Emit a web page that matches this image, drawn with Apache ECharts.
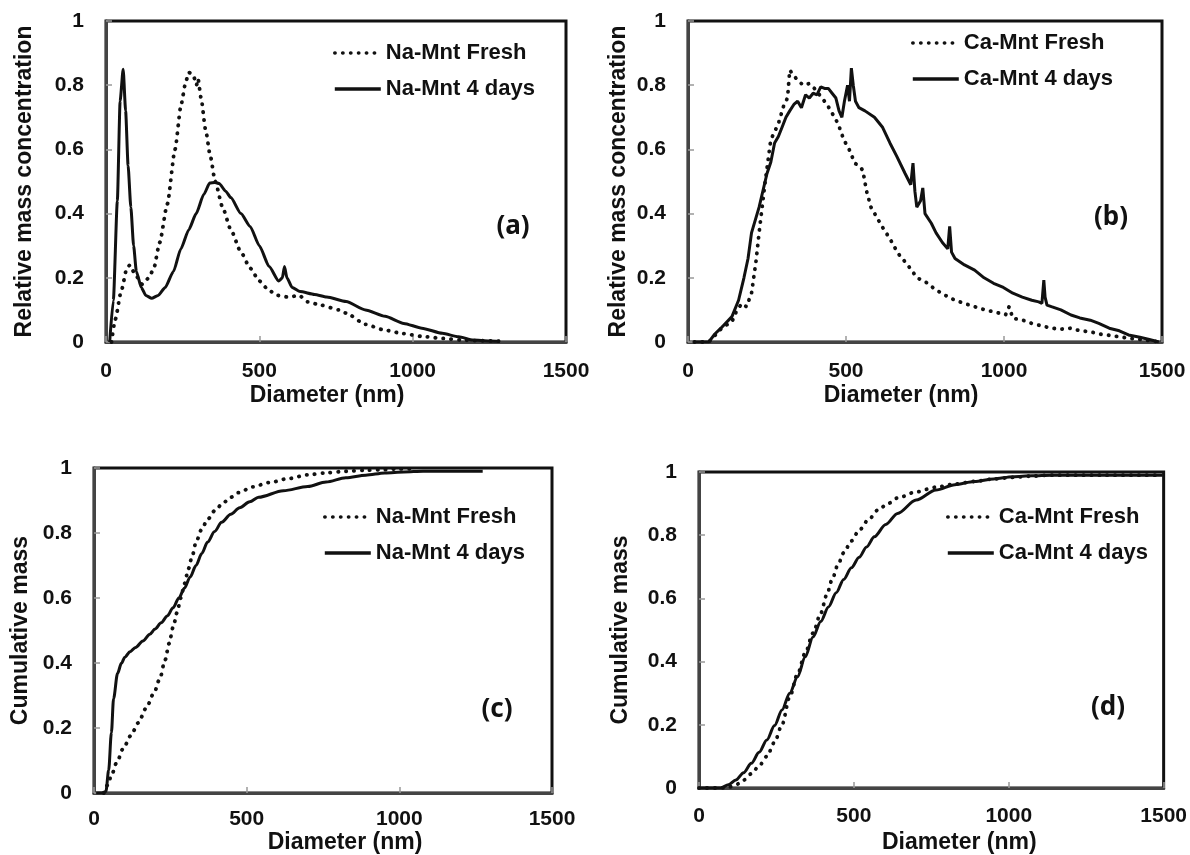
<!DOCTYPE html>
<html>
<head>
<meta charset="utf-8">
<script src="https://cdn.jsdelivr.net/npm/echarts@6/dist/echarts.min.js"></script>
<style>
  html, body { margin: 0; padding: 0; background: #fff; }
  #chart { width: 1190px; height: 855px; }
</style>
</head>
<body>
<div id="chart"></div>
<script>
// x ticks shared by all panels
const xTicks = [0, 500, 1000, 1500];
const yTicks = [0, 0.2, 0.4, 0.6, 0.8, 1];

// (a) Na-Mnt relative mass concentration
const aFreshX = [18, 30, 50, 68, 78, 95, 118, 140, 156, 175, 200, 225, 245, 260, 270, 285, 295, 300, 310, 325, 340, 356, 380, 407, 440, 470, 500, 532, 560, 595, 630, 658, 700, 760, 783, 846, 908, 970, 1034, 1100, 1159, 1220, 1280];
const aFreshY = [0, 0.07, 0.16, 0.23, 0.24, 0.21, 0.18, 0.2, 0.23, 0.31, 0.43, 0.6, 0.74, 0.81, 0.84, 0.83, 0.8, 0.82, 0.76, 0.66, 0.58, 0.5, 0.42, 0.35, 0.28, 0.23, 0.19, 0.16, 0.145, 0.14, 0.145, 0.125, 0.115, 0.1, 0.09, 0.055, 0.037, 0.026, 0.017, 0.011, 0.006, 0.004, 0.003];
const a4dX = [12, 24, 37, 46, 56, 64, 72, 81, 90, 99, 115, 130, 149, 170, 193, 220, 244, 270, 294, 319, 338, 355, 369, 390, 407, 440, 470, 500, 532, 563, 575, 582, 590, 607, 633, 680, 720, 783, 846, 910, 971, 1030, 1097, 1150, 1197, 1250, 1285];
const a4dY = [0, 0.13, 0.44, 0.75, 0.85, 0.72, 0.55, 0.42, 0.3, 0.22, 0.17, 0.145, 0.136, 0.145, 0.17, 0.22, 0.29, 0.35, 0.4, 0.46, 0.495, 0.497, 0.494, 0.47, 0.45, 0.4, 0.36, 0.3, 0.235, 0.19, 0.2, 0.235, 0.2, 0.17, 0.157, 0.148, 0.14, 0.126, 0.1, 0.08, 0.058, 0.043, 0.027, 0.016, 0.006, 0.003, 0.002];

// (b) Ca-Mnt relative mass concentration
const bFreshX = [20, 66, 85, 104, 125, 139, 155, 171, 185, 201, 215, 225, 243, 262, 286, 304, 315, 322, 335, 347, 365, 383, 400, 420, 440, 456, 475, 493, 510, 528, 545, 553, 565, 579, 614, 640, 664, 695, 725, 755, 785, 815, 845, 875, 907, 940, 968, 1005, 1016, 1028, 1060, 1088, 1120, 1150, 1180, 1212, 1240, 1273, 1300, 1340, 1394, 1430, 1456, 1480];
const bFreshY = [0, 0, 0.02, 0.04, 0.055, 0.063, 0.1, 0.12, 0.11, 0.152, 0.25, 0.34, 0.49, 0.63, 0.68, 0.74, 0.76, 0.847, 0.83, 0.815, 0.8, 0.805, 0.79, 0.765, 0.74, 0.713, 0.68, 0.63, 0.6, 0.557, 0.545, 0.535, 0.47, 0.42, 0.36, 0.32, 0.277, 0.24, 0.2, 0.185, 0.162, 0.145, 0.13, 0.12, 0.11, 0.1, 0.094, 0.085, 0.11, 0.074, 0.068, 0.058, 0.05, 0.043, 0.04, 0.043, 0.035, 0.032, 0.025, 0.02, 0.012, 0.008, 0.005, 0.002];
const b4dX = [20, 66, 85, 104, 139, 160, 177, 190, 201, 225, 250, 262, 274, 286, 298, 310, 322, 335, 347, 359, 372, 384, 396, 408, 420, 432, 444, 456, 468, 478, 487, 495, 505, 511, 517, 523, 530, 541, 560, 590, 615, 639, 660, 687, 705, 712, 718, 724, 736, 743, 750, 770, 785, 805, 822, 828, 834, 845, 875, 907, 937, 967, 998, 1028, 1058, 1088, 1110, 1120, 1126, 1130, 1136, 1150, 1180, 1212, 1240, 1273, 1300, 1333, 1365, 1394, 1430, 1460, 1490];
const b4dY = [0, 0, 0.025, 0.043, 0.079, 0.13, 0.2, 0.26, 0.34, 0.42, 0.525, 0.56, 0.62, 0.64, 0.67, 0.7, 0.72, 0.74, 0.75, 0.73, 0.77, 0.76, 0.775, 0.77, 0.795, 0.79, 0.79, 0.775, 0.76, 0.72, 0.7, 0.75, 0.8, 0.75, 0.853, 0.8, 0.75, 0.73, 0.72, 0.7, 0.67, 0.62, 0.58, 0.525, 0.49, 0.557, 0.47, 0.42, 0.44, 0.48, 0.4, 0.37, 0.34, 0.31, 0.29, 0.36, 0.28, 0.26, 0.24, 0.224, 0.2, 0.183, 0.17, 0.152, 0.14, 0.13, 0.125, 0.12, 0.193, 0.14, 0.115, 0.11, 0.1, 0.084, 0.075, 0.068, 0.058, 0.043, 0.035, 0.022, 0.015, 0.008, 0];

// (c) Na-Mnt cumulative mass
const cFreshX = [32, 45, 57, 75, 95, 120, 145, 170, 196, 215, 233, 246, 259, 272, 284, 297, 309, 322, 334, 352, 372, 397, 423, 448, 473, 520, 573, 640, 700, 760, 825, 890, 952, 1000, 1050];
const cFreshY = [0, 0.025, 0.055, 0.095, 0.136, 0.176, 0.216, 0.26, 0.307, 0.35, 0.41, 0.46, 0.51, 0.555, 0.6, 0.645, 0.69, 0.73, 0.772, 0.81, 0.842, 0.87, 0.893, 0.91, 0.924, 0.942, 0.955, 0.968, 0.979, 0.985, 0.99, 0.993, 0.995, 0.997, 0.998];
const c4dX = [7, 25, 39, 48, 57, 64, 77, 90, 101, 118, 136, 160, 183, 200, 220, 240, 259, 278, 296, 315, 334, 353, 372, 395, 418, 448, 477, 510, 539, 620, 700, 760, 825, 890, 952, 1015, 1078, 1150, 1273];
const c4dY = [0, 0, 0.005, 0.07, 0.186, 0.29, 0.368, 0.4, 0.418, 0.435, 0.448, 0.468, 0.489, 0.505, 0.524, 0.545, 0.57, 0.6, 0.63, 0.665, 0.7, 0.737, 0.772, 0.805, 0.833, 0.858, 0.878, 0.896, 0.91, 0.93, 0.943, 0.957, 0.97, 0.978, 0.985, 0.988, 0.99, 0.99, 0.99];

// (d) Ca-Mnt cumulative mass
const dFreshX = [0, 70, 95, 119, 144, 169, 194, 219, 244, 268, 293, 318, 343, 368, 393, 412, 430, 448, 467, 492, 517, 548, 578, 610, 641, 701, 765, 826, 889, 951, 1013, 1075, 1137, 1300, 1490];
const dFreshY = [0, 0, 0.002, 0.01, 0.025, 0.045, 0.07, 0.1, 0.145, 0.2, 0.289, 0.36, 0.427, 0.49, 0.553, 0.61, 0.66, 0.705, 0.744, 0.782, 0.816, 0.85, 0.88, 0.9, 0.918, 0.937, 0.952, 0.962, 0.97, 0.978, 0.983, 0.987, 0.99, 0.99, 0.99];
const d4dX = [0, 70, 95, 119, 144, 169, 194, 219, 244, 268, 293, 318, 343, 368, 393, 418, 443, 467, 492, 517, 541, 566, 603, 641, 701, 765, 826, 889, 951, 1013, 1075, 1137, 1300, 1497];
const d4dY = [0, 0, 0.01, 0.025, 0.048, 0.078, 0.113, 0.152, 0.198, 0.247, 0.3, 0.352, 0.415, 0.478, 0.527, 0.573, 0.618, 0.66, 0.697, 0.73, 0.763, 0.795, 0.834, 0.869, 0.911, 0.943, 0.96, 0.97, 0.978, 0.985, 0.988, 0.99, 0.99, 0.99];

const FONT = '"Liberation Sans", Arial, sans-serif';
const pair = (xs, ys) => xs.map((x, i) => [x, ys[i]]);

const grids = [
  { left: 106, top: 21, width: 460, height: 321 },
  { left: 688, top: 21, width: 474, height: 321 },
  { left: 94, top: 468, width: 458, height: 330 },
  { left: 699, top: 472, width: 465, height: 316 },
];
const yNames = ['Relative mass concentration', 'Relative mass concentration', 'Cumulative mass', 'Cumulative mass'];
const yNameGaps = [70, 58, 62, 67];
const xNameGaps = [42, 42, 34, 43];
const xNamePad = [[0, 18, 0, 0], [0, 48, 0, 0], [0, 0, 0, 44], [0, 0, 0, 56]];
const xLabelMargins = [19, 19, 16, 18];

const axisCommon = {
  axisLine: { show: true, lineStyle: { color: '#444', width: 3 } },
  axisTick: { show: true, inside: true, length: 6, lineStyle: { color: '#999', width: 1.5 } },
  splitLine: { show: false },
};

const option = {
  backgroundColor: '#fff',
  animation: false,
  grid: grids.map(g => Object.assign({ show: true, borderColor: '#111', borderWidth: 3 }, g)),
  xAxis: grids.map((g, i) => Object.assign({}, axisCommon, {
    type: 'value', gridIndex: i, min: xTicks[0], max: xTicks[xTicks.length - 1], interval: 500,
    name: 'Diameter (nm)', nameLocation: 'middle', nameGap: xNameGaps[i],
    nameTextStyle: { fontFamily: FONT, fontWeight: 'bold', fontSize: 23, color: '#111', padding: xNamePad[i] },
    axisLabel: { fontFamily: FONT, fontWeight: 'bold', fontSize: 21, color: '#111', margin: xLabelMargins[i], showMinLabel: true, showMaxLabel: true, formatter: v => String(v) },
  })),
  yAxis: grids.map((g, i) => Object.assign({}, axisCommon, {
    type: 'value', gridIndex: i, min: yTicks[0], max: yTicks[yTicks.length - 1], interval: 0.2,
    name: yNames[i], nameLocation: 'middle', nameGap: yNameGaps[i],
    nameTextStyle: { fontFamily: FONT, fontWeight: 'bold', fontSize: 23, color: '#111' },
    axisLabel: { fontFamily: FONT, fontWeight: 'bold', fontSize: 21, color: '#111', margin: 22, showMinLabel: true, showMaxLabel: true, formatter: v => String(v) },
  })),
  legend: [
    { left: 333, top: 42, data: ['Na-Mnt Fresh', 'Na-Mnt 4 days'] },
    { left: 911, top: 32, data: ['Ca-Mnt Fresh', 'Ca-Mnt 4 days'] },
    { left: 323, top: 506, data: ['Na-Mnt Fresh', 'Na-Mnt 4 days'] },
    { left: 946, top: 506, data: ['Ca-Mnt Fresh', 'Ca-Mnt 4 days'] },
  ].map(l => Object.assign({
    orient: 'vertical', itemWidth: 46, itemHeight: 14, itemGap: 14, padding: 0,
    itemStyle: { opacity: 0 },
    lineStyle: { width: 3.6 },
    textStyle: { fontFamily: FONT, fontWeight: 'bold', fontSize: 22, color: '#111' },
  }, l)),
  graphic: [
    { text: '(a)', x: 513, y: 227 },
    { text: '(b)', x: 1111, y: 218 },
    { text: '(c)', x: 497, y: 710 },
    { text: '(d)', x: 1108, y: 708 },
  ].map(t => ({
    type: 'text', x: t.x, y: t.y,
    style: { text: t.text, fill: '#111', font: 'bold 26px "Noto Sans", sans-serif', align: 'center', verticalAlign: 'middle' },
  })),
  series: [],
};

const dotted = { color: '#111', width: 3.8, type: [0.3, 7.6], cap: 'round' };
const solid = { color: '#111', width: 3 };
const panels = [
  ['Na-Mnt Fresh', aFreshX, aFreshY, 'Na-Mnt 4 days', a4dX, a4dY, 0.2],
  ['Ca-Mnt Fresh', bFreshX, bFreshY, 'Ca-Mnt 4 days', b4dX, b4dY, 0],
  ['Na-Mnt Fresh', cFreshX, cFreshY, 'Na-Mnt 4 days', c4dX, c4dY, 0.3],
  ['Ca-Mnt Fresh', dFreshX, dFreshY, 'Ca-Mnt 4 days', d4dX, d4dY, 0.3],
];
panels.forEach((p, i) => {
  option.series.push({
    type: 'line', name: p[0], xAxisIndex: i, yAxisIndex: i, data: pair(p[1], p[2]),
    symbol: 'none', smooth: p[6], smoothMonotone: 'x', lineStyle: dotted, itemStyle: { color: '#111' },
  });
  option.series.push({
    type: 'line', name: p[3], xAxisIndex: i, yAxisIndex: i, data: pair(p[4], p[5]),
    symbol: 'none', smooth: p[6], smoothMonotone: 'x', lineStyle: solid, itemStyle: { color: '#111' },
  });
});

const myChart = echarts.init(document.getElementById('chart'));
myChart.setOption(option);
</script>
</body>
</html>
